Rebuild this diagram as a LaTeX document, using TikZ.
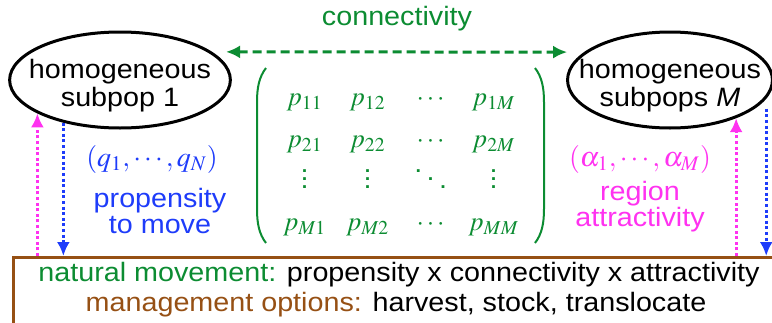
\documentclass[tikz,border=0pt]{standalone}
\usepackage{mathptmx}
\usepackage{fontspec}
\setmainfont[FakeStretch=1.08]{Liberation Sans}
\usetikzlibrary{shapes.geometric,arrows.meta,matrix}

\definecolor{conngreen}{RGB}{12,140,50}
\definecolor{propblue}{RGB}{30,60,250}
\definecolor{attrpink}{RGB}{255,50,240}
\definecolor{mgmtbrown}{RGB}{150,80,20}

% short dots for the matrix
\newcommand{\pvdots}{\vbox{\baselineskip4pt\lineskiplimit0pt\hbox{.}\hbox{.}\hbox{.}}}
\newcommand{\pddots}{\mathinner{\raise8pt\hbox{.}\mkern3mu\raise4pt\hbox{.}\mkern3mu\hbox{.}}}

\begin{document}
\begin{tikzpicture}[x=0.5pt,y=0.5pt,yscale=-1,xscale=1,
  every node/.style={font=\fontsize{13.3}{14.2}\selectfont},
  subpop/.style={ellipse,draw,line width=1.5pt,minimum height=48pt,inner ysep=0pt,align=center},
  connline/.style={conngreen,line width=1.5pt,dash pattern=on 4.5pt off 2.5pt,{Latex[length=7pt,width=6.5pt]}-{Latex[length=7pt,width=6.5pt]}},
  dotarrow/.style={line width=1.5pt,dash pattern=on 1.5pt off 1.3pt,-{Latex[length=7pt,width=6.5pt]}},
  mgmtbox/.style={draw=mgmtbrown,line width=1.5pt,inner sep=0pt,anchor=north west},
  paren/.style={draw=conngreen,line width=1pt}]
\useasboundingbox (0,0) rectangle (772,322);
\clip (0,0) rectangle (772,322);

%Shape: Ellipse [subpop 1]
\node[subpop,inner xsep=-6.5pt] (pop1) at (120,80) {\rule{0pt}{15.5pt}homogeneous\\subpop 1};
%Shape: Ellipse [subpop M]
\node[subpop,inner xsep=-9.3pt] (popM) at (670,80) {\rule{0pt}{15.5pt}homogeneous\\subpops \textit{M}};
%Shape: Rectangle [management box]
\node[mgmtbox,minimum width=400pt,minimum height=45pt] (box) at (12,256) {};

%Straight Lines [connectivity]
\draw[connline,shorten <=7pt,shorten >=8.5pt] (pop1.17.4) -- (popM.162.6);
%Straight Lines [propensity, left]
\draw[dotarrow,propblue] (pop1.217) -- (pop1.217 |- box.north);
%Straight Lines [attractivity, left]
\draw[dotarrow,attrpink] (pop1.202 |- box.north) -- (pop1.202);
%Straight Lines [attractivity, right]
\draw[dotarrow,attrpink] (popM.330.4 |- box.north) -- (popM.330.4);
%Straight Lines [propensity, right]
\draw[dotarrow,propblue,shorten <=5pt] (popM.349.6) -- (popM.349.6 |- box.north);

% Matrix
\matrix (pmat) at (401,165) [matrix of math nodes,conngreen,nodes={inner sep=0pt},
  column sep={31.5pt,between origins},row sep={20.8pt,between origins}] {
  p_{11} & p_{12} & \cdots & p_{1M} \\
  p_{21} & p_{22} & \cdots & p_{2M} \\
  \pvdots & \pvdots & \pddots & \pvdots \\
  p_{M1} & p_{M2} & \cdots & p_{MM} \\
};
%Shape: Bracket [left]
\draw[paren] (266,68) .. controls (259,77) and (257,88) .. (257,102) -- (257,209) .. controls (257,223) and (259,234) .. (266,243);
%Shape: Bracket [right]
\draw[paren] (535,68) .. controls (542,77) and (544,88) .. (544,102) -- (544,209) .. controls (544,223) and (542,234) .. (535,243);

% Text Node
\node[anchor=base,conngreen] (conntext) at (397,25) {connectivity};
% Text Node
\node[propblue] (qvec) at (152,159) {\fontsize{14}{14}\selectfont$(q_1,\cdots,q_N)$};
% Text Node
\node[propblue,align=center,font=\fontsize{13.3}{13}\selectfont] (proptext) at (160,211) {propensity\\to move};
% Text Node
\node[attrpink] (avec) at (640,159) {\fontsize{14}{14}\selectfont$(\alpha_1,\cdots,\alpha_M)$};
% Text Node
\node[attrpink,align=center,font=\fontsize{13.3}{13}\selectfont] (attrtext) at (640,207) {region\\attractivity};
% Text Node
\node[anchor=base] (natmove) at (399,281) {\textcolor{conngreen}{natural movement:} propensity x connectivity x attractivity};
% Text Node
\node[anchor=base] (mgmtopt) at (396,311) {\textcolor{mgmtbrown}{management options:} harvest, stock, translocate};

\end{tikzpicture}
\end{document}
